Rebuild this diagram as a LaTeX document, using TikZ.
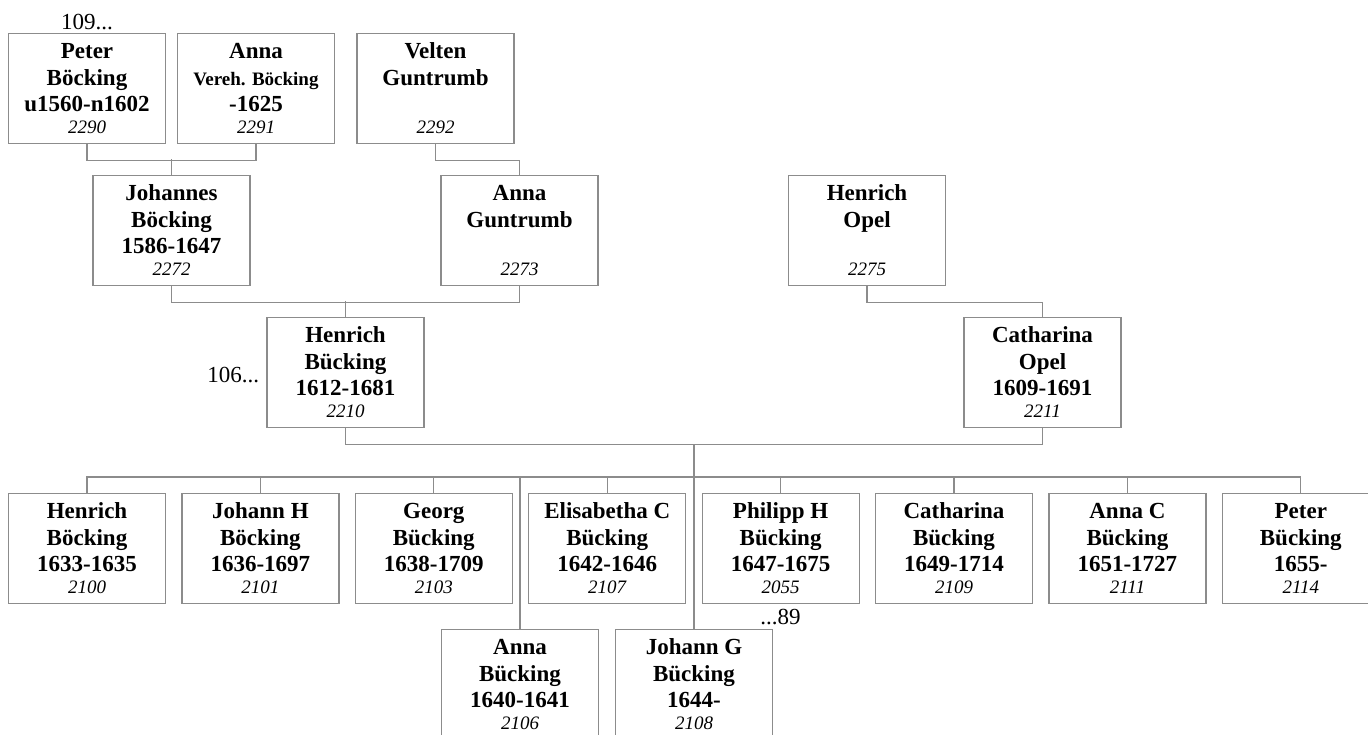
\documentclass[tikz,border=0pt]{standalone}
\usepackage{fontspec}
\setmainfont{Liberation Serif}
\usetikzlibrary{calc}
\definecolor{cline}{HTML}{8C8C8C}
% one person: box, name lines, dates, number
\newcommand\person[7]{%
  \node[pbox] (#1) at (#2,#3) {};
  \node[nm] (#1a) at ([yshift=-25pt]#1.north) {#4};
  \node[nm] (#1b) at ([yshift=-52pt]#1.north) {#5};
  \node[nm] (#1c) at ([yshift=-78pt]#1.north) {#6};
  \node[num] (#1n) at ([yshift=-100pt]#1.north) {#7};
}
\tikzset{
  pbox/.style={draw=cline,line width=1.2pt,fill=white,anchor=north,
    minimum width=157pt,minimum height=110pt,inner sep=0pt},
  nm/.style={anchor=base,inner sep=0pt,font=\fontsize{23}{27}\selectfont\bfseries},
  num/.style={anchor=base,inner sep=0pt,font=\fontsize{19}{22}\selectfont\itshape},
  lbl/.style={inner sep=0pt,font=\fontsize{23}{27}\selectfont},
  lnk/.style={draw=cline,line width=1.2pt}
}
\begin{document}
\begin{tikzpicture}[x=1pt,y=-1pt]
  \useasboundingbox (0,0) rectangle (1368,734);
  \clip (0,0) rectangle (1368,734);
  % grandparents
  \person{p2290}{87}{33}{Peter}{Böcking}{u1560-n1602}{2290}
  \person{p2291}{256}{33}{Anna}{\fontsize{19}{22}\selectfont Vereh. Böcking}{-1625}{2291}
  \person{p2292}{435.5}{33}{Velten}{Guntrumb}{}{2292}
  % parents
  \person{p2272}{171.5}{175}{Johannes}{Böcking}{1586-1647}{2272}
  \person{p2273}{519.5}{175}{Anna}{Guntrumb}{}{2273}
  \person{p2275}{867}{175}{Henrich}{Opel}{}{2275}
  % couple
  \person{p2210}{345.5}{317}{Henrich}{Bücking}{1612-1681}{2210}
  \person{p2211}{1042.5}{317}{Catharina}{Opel}{1609-1691}{2211}
  % children
  \foreach \id/\k/\fn/\ln/\yr in {2100/0/Henrich/Böcking/1633-1635,
      2101/1/Johann H/Böcking/1636-1697, 2103/2/Georg/Bücking/1638-1709,
      2107/3/Elisabetha C/Bücking/1642-1646, 2055/4/Philipp H/Bücking/1647-1675,
      2109/5/Catharina/Bücking/1649-1714, 2111/6/Anna C/Bücking/1651-1727,
      2114/7/Peter/Bücking/1655-}
    {\pgfmathsetmacro\cx{87+173.4*\k}
     \person{p\id}{\cx}{493}{\fn}{\ln}{\yr}{\id}}
  \person{p2106}{520}{629}{Anna}{Bücking}{1640-1641}{2106}
  \person{p2108}{694}{629}{Johann G}{Bücking}{1644-}{2108}
  % links
  \draw[lnk] (p2290.south) -- ++(0,16) -| (p2291.south);
  \draw[lnk] (p2272.north) -- ++(0,-16);
  \draw[lnk] (p2292.south) -- ++(0,16) -| (p2273.north);
  \draw[lnk] (p2272.south) -- ++(0,16) -| (p2273.south);
  \draw[lnk] (p2210.north) -- ++(0,-16);
  \draw[lnk] (p2275.south) -- ++(0,16) -| (p2211.north);
  \draw[lnk] (p2210.south) -- ++(0,16) -| (p2211.south);
  \coordinate (fam) at ($(p2210.south)!0.5!(p2211.south)+(0,16)$);
  \coordinate (bus) at ($(p2100.north)+(0,-16)$);
  \draw[lnk] (p2100.north) -- (bus) -| (p2114.north);
  \foreach \id in {2101,2103,2107,2055,2109,2111}
    {\draw[lnk] (p\id.north) -- ++(0,-16);}
  \draw[lnk] (fam) -- (fam |- p2108.north);
  \draw[lnk] (p2106.north) -- (p2106.north |- bus);
  % continuation marks
  \node[lbl,anchor=base] (m109) at ([yshift=4pt]p2290.north) {109...};
  \node[lbl,anchor=base east] (m106) at ([xshift=-7pt,yshift=-65pt]p2210.north west) {106...};
  \node[lbl,anchor=base] (m89) at ([yshift=-20pt]p2055.south) {...89};
\end{tikzpicture}
\end{document}
